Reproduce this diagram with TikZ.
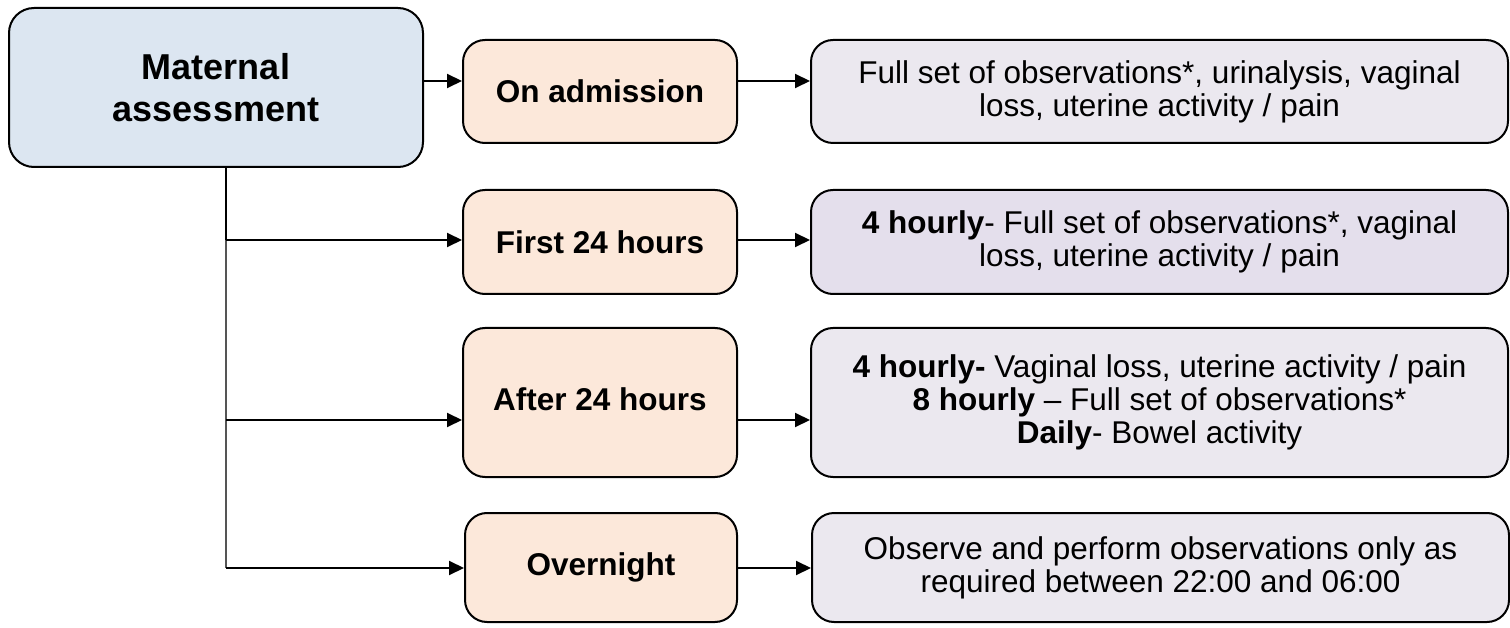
\documentclass[tikz,border=0pt]{standalone}
\usepackage{fontspec}
\setmainfont{Liberation Sans}
\usetikzlibrary{arrows.meta}
\definecolor{mainfill}{HTML}{DCE6F1}
\definecolor{stagefill}{HTML}{FCE8DA}
\definecolor{notefill}{HTML}{EBE8EF}
\definecolor{notefilldark}{HTML}{E4DFEC}
\definecolor{trunkgray}{HTML}{555555}
\begin{document}
\begin{tikzpicture}[x=1pt,y=-1pt,
  box/.style={draw=black,line width=2pt,inner sep=0pt,align=center,text=black},
  mainbox/.style={box,fill=mainfill,rounded corners=25pt,minimum width=414pt,minimum height=159pt,
    font=\fontsize{36}{42}\selectfont\bfseries},
  stagebox/.style={box,fill=stagefill,rounded corners=22pt,minimum width=274pt,
    font=\fontsize{31.5}{33}\selectfont\bfseries},
  notebox/.style={box,fill=notefill,rounded corners=22pt,minimum width=697pt,
    font=\fontsize{31.5}{33}\selectfont},
  arr/.style={line width=2pt,-{Triangle[length=15pt,width=14pt]}},
  trunk/.style={line width=2pt},
  trunkthin/.style={line width=1.3pt,draw=trunkgray}]
\useasboundingbox (0,0) rectangle (1510,628);

% root box
\node[mainbox] (main) at (216,87.5) {Maternal\\assessment};

% stage boxes
\node[stagebox,minimum height=103pt] (adm) at (600,91.5) {On admission};
\node[stagebox,minimum height=104pt] (first) at (600,242) {First 24 hours};
\node[stagebox,minimum height=149pt] (after) at (600,402.5) {\raisebox{7pt}{After 24 hours}};
\node[stagebox,minimum height=109pt,minimum width=272pt] (night) at (601,567.5) {Overnight};

% detail boxes
\node[notebox,minimum height=103pt] (admtxt) at (1159.5,91.5)
  {\raisebox{0pt}{Full set of observations*, urinalysis, vaginal}\\loss, uterine activity / pain};
\node[notebox,fill=notefilldark,minimum height=104pt] (firsttxt) at (1159.5,242)
  {\textbf{4 hourly}- Full set of observations*, vaginal\\loss, uterine activity / pain};
\node[notebox,minimum height=149pt] (aftertxt) at (1159.5,402.5)
  {\textbf{4 hourly-} Vaginal loss, uterine activity / pain\\
   \textbf{8 hourly} -- Full set of observations*\\
   \textbf{Daily}- Bowel activity};
\node[notebox,minimum height=109pt] (nighttxt) at (1160.5,567.5)
  {Observe and perform observations only as\\required between 22:00 and 06:00};

% connector levels
\coordinate (r1) at (0,81);
\coordinate (r2) at (0,240);
\coordinate (r3) at (0,420);
\coordinate (r4) at (0,568);
\coordinate (tr) at (226,0);

% trunk from the root box
\draw[trunk] (main.south -| tr) -- (tr |- r2);
\draw[trunkthin] (tr |- r2) -- (tr |- r4);

% root to stages
\draw[arr] (main.east |- r1) -- (adm.west |- r1);
\draw[arr] (tr |- r2) -- (first.west |- r2);
\draw[arr] (tr |- r3) -- (after.west |- r3);
\draw[arr] (tr |- r4) -- (night.west |- r4);

% stages to details
\draw[arr] (adm.east |- r1) -- (admtxt.west |- r1);
\draw[arr] (first.east |- r2) -- (firsttxt.west |- r2);
\draw[arr] (after.east |- r3) -- (aftertxt.west |- r3);
\draw[arr] (night.east |- r4) -- (nighttxt.west |- r4);
\end{tikzpicture}
\end{document}
